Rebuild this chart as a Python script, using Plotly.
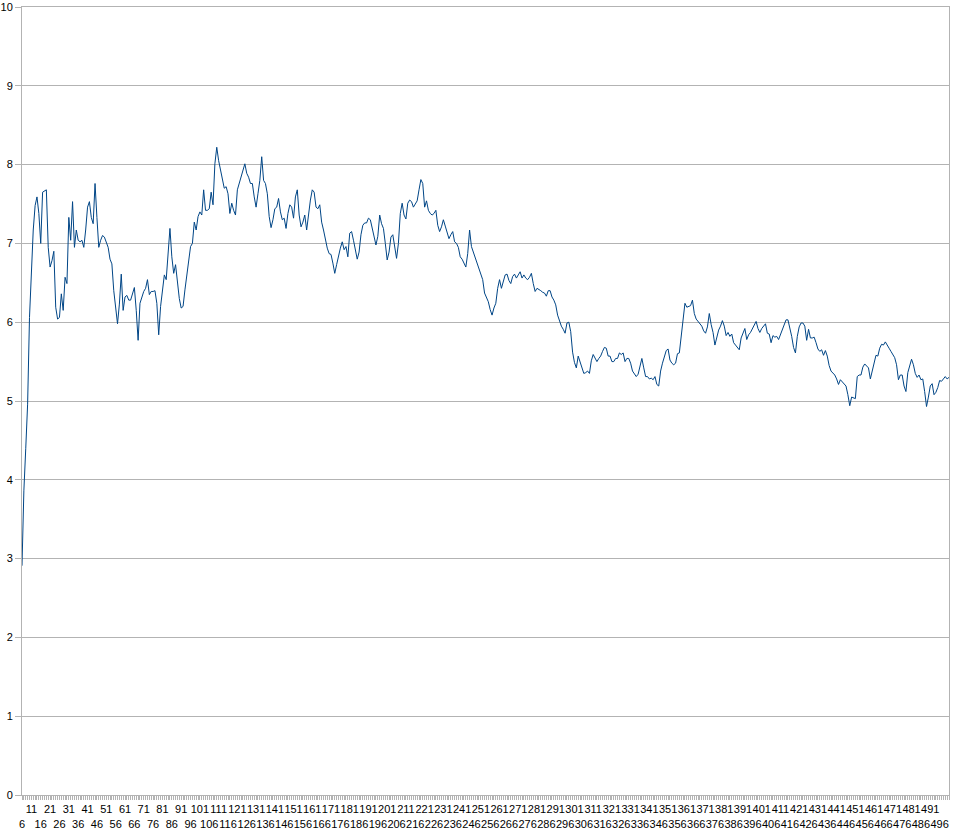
import plotly.graph_objects as go

# values (one per category, categories 6..501)
values = [
    2.91, 3.86, 4.4, 4.96, 6.06, 6.61, 7.17, 7.48, 7.59, 7.38,
    7.0, 7.65, 7.67, 7.68, 6.95, 6.7, 6.78, 6.9, 6.19, 6.04,
    6.06, 6.36, 6.15, 6.57, 6.49, 7.33, 7.04, 7.53, 6.95, 7.17,
    7.04, 7.02, 7.04, 6.95, 7.17, 7.46, 7.53, 7.33, 7.25, 7.76,
    7.33, 6.95, 7.04, 7.1, 7.08, 7.02, 6.95, 6.8, 6.74, 6.4,
    6.19, 5.98, 6.23, 6.61, 6.15, 6.32, 6.34, 6.28, 6.28, 6.36,
    6.44, 6.15, 5.77, 6.24, 6.32, 6.39, 6.43, 6.54, 6.35, 6.39,
    6.39, 6.40, 6.24, 5.84, 6.20, 6.43, 6.6, 6.54, 6.83, 7.19,
    6.83, 6.62, 6.73, 6.49, 6.30, 6.18, 6.20, 6.41, 6.58, 6.77,
    6.96, 7.0, 7.27, 7.17, 7.34, 7.40, 7.36, 7.68, 7.42, 7.42,
    7.44, 7.65, 7.49, 8.01, 8.22, 8.05, 7.93, 7.84, 7.70, 7.72,
    7.63, 7.38, 7.51, 7.42, 7.36, 7.68, 7.76, 7.84, 7.91, 8.01,
    7.89, 7.84, 7.76, 7.76, 7.59, 7.46, 7.63, 7.80, 8.10, 7.80,
    7.76, 7.63, 7.34, 7.2, 7.3, 7.44, 7.46, 7.57, 7.40, 7.30,
    7.32, 7.19, 7.38, 7.49, 7.46, 7.32, 7.59, 7.68, 7.36, 7.21,
    7.27, 7.36, 7.17, 7.40, 7.55, 7.68, 7.65, 7.46, 7.44, 7.49,
    7.27, 7.17, 7.04, 6.94, 6.87, 6.86, 6.75, 6.62, 6.73, 6.85,
    6.94, 7.02, 6.92, 6.96, 6.83, 7.13, 7.15, 7.04, 6.89, 6.80,
    6.89, 7.11, 7.23, 7.26, 7.26, 7.32, 7.30, 7.19, 7.11, 6.98,
    7.09, 7.36, 7.25, 7.19, 7.0, 6.79, 6.89, 7.08, 7.11, 6.96,
    6.81, 7.0, 7.38, 7.51, 7.36, 7.31, 7.51, 7.55, 7.53, 7.46,
    7.51, 7.54, 7.68, 7.81, 7.76, 7.46, 7.54, 7.42, 7.38, 7.36,
    7.38, 7.42, 7.23, 7.15, 7.21, 7.30, 7.22, 7.15, 7.06, 7.11,
    7.15, 7.02, 7.0, 6.95, 6.83, 6.80, 6.75, 6.70, 6.87, 7.17,
    6.96, 6.89, 6.80, 6.74, 6.67, 6.62, 6.54, 6.37, 6.32, 6.26,
    6.16, 6.09, 6.18, 6.24, 6.43, 6.54, 6.43, 6.51, 6.60, 6.61,
    6.53, 6.49, 6.58, 6.61, 6.56, 6.60, 6.64, 6.56, 6.60, 6.56,
    6.54, 6.57, 6.62, 6.49, 6.39, 6.43, 6.42, 6.40, 6.38, 6.37,
    6.33, 6.40, 6.40, 6.32, 6.28, 6.22, 6.09, 6.02, 5.95, 5.91,
    5.86, 5.99, 6.0, 5.88, 5.62, 5.49, 5.42, 5.57, 5.50, 5.41,
    5.35, 5.36, 5.38, 5.35, 5.51, 5.59, 5.54, 5.50, 5.54, 5.57,
    5.63, 5.68, 5.67, 5.57, 5.57, 5.50, 5.50, 5.54, 5.54, 5.61,
    5.59, 5.61, 5.50, 5.54, 5.54, 5.48, 5.38, 5.35, 5.31, 5.34,
    5.46, 5.54, 5.42, 5.31, 5.31, 5.28, 5.29, 5.27, 5.31, 5.21,
    5.19, 5.38, 5.48, 5.57, 5.64, 5.66, 5.52, 5.48, 5.46, 5.48,
    5.60, 5.61, 5.82, 6.05, 6.24, 6.19, 6.20, 6.21, 6.28, 6.11,
    6.04, 6.01, 5.99, 5.95, 5.89, 5.86, 5.94, 6.11, 5.97, 5.87,
    5.71, 5.82, 5.90, 5.95, 6.02, 5.95, 5.83, 5.87, 5.82, 5.85,
    5.74, 5.71, 5.68, 5.65, 5.80, 5.87, 5.92, 5.78, 5.84, 5.87,
    5.92, 5.98, 6.01, 5.92, 5.87, 5.92, 5.95, 5.98, 5.86, 5.85,
    5.74, 5.83, 5.81, 5.82, 5.78, 5.84, 5.89, 5.97, 6.03, 6.03,
    5.94, 5.82, 5.68, 5.61, 5.82, 5.94, 5.99, 5.99, 5.95, 5.77,
    5.91, 5.80, 5.80, 5.81, 5.74, 5.66, 5.63, 5.65, 5.58, 5.64,
    5.57, 5.45, 5.38, 5.36, 5.33, 5.28, 5.21, 5.27, 5.24, 5.21,
    5.19, 5.08, 4.94, 5.05, 5.04, 5.03, 5.31, 5.33, 5.33, 5.43,
    5.47, 5.44, 5.42, 5.28, 5.38, 5.47, 5.58, 5.57, 5.67, 5.72,
    5.71, 5.75, 5.70, 5.67, 5.63, 5.58, 5.55, 5.46, 5.27, 5.33,
    5.33, 5.19, 5.12, 5.36, 5.44, 5.53, 5.46, 5.35, 5.30, 5.33,
    5.27, 5.28, 5.12, 4.93, 5.05, 5.19, 5.22, 5.08, 5.11, 5.17,
    5.26, 5.25, 5.28, 5.31, 5.28, 5.30,
]

first_category = 6
categories = list(range(first_category, first_category + len(values)))

# labelled categories: every 5th, alternating between two rows
label_values = list(range(6, 497, 5))
label_texts = [str(v) if (v - 6) % 10 == 5 else "<br>" + str(v) for v in label_values]

y_ticks = list(range(0, 11))

GRID = "#b3b3b3"
LINE = "#004586"
FONT = dict(family="Liberation Sans, Arial, sans-serif", size=11, color="#000000")

fig = go.Figure()
fig.add_trace(go.Scatter(
    x=categories, y=values, mode="lines",
    line=dict(color=LINE, width=1),
    hoverinfo="x+y", showlegend=False,
))

fig.update_layout(
    width=953, height=834, autosize=False,
    margin=dict(l=22, r=4, t=7, b=39, pad=0, autoexpand=False),
    paper_bgcolor="white", plot_bgcolor="white",
    font=FONT,
)
fig.update_xaxes(
    range=[categories[0], categories[-1]],
    tickmode="array", tickvals=label_values, ticktext=label_texts,
    tickangle=0, automargin=False,
    ticks="outside", ticklen=4, tickcolor=GRID, tickwidth=1,
    minor=dict(tickmode="linear", tick0=categories[0], dtick=1,
               ticks="outside", ticklen=4, tickcolor=GRID, tickwidth=1,
               showgrid=False),
    showgrid=False, zeroline=False,
    showline=True, linecolor=GRID, linewidth=1, mirror=True,
    tickfont=FONT,
)
fig.update_yaxes(
    range=[0, 10], tickmode="array", tickvals=y_ticks,
    automargin=False,
    ticks="outside", ticklen=6, tickcolor=GRID, tickwidth=1,
    showgrid=True, gridcolor=GRID, gridwidth=1, zeroline=False,
    showline=True, linecolor=GRID, linewidth=1, mirror=True,
    tickfont=FONT,
)

fig.write_html(
    "out.html",
    config={"displayModeBar": False},
    post_script="document.body.style.margin='0px';document.body.style.overflow='hidden';",
)
